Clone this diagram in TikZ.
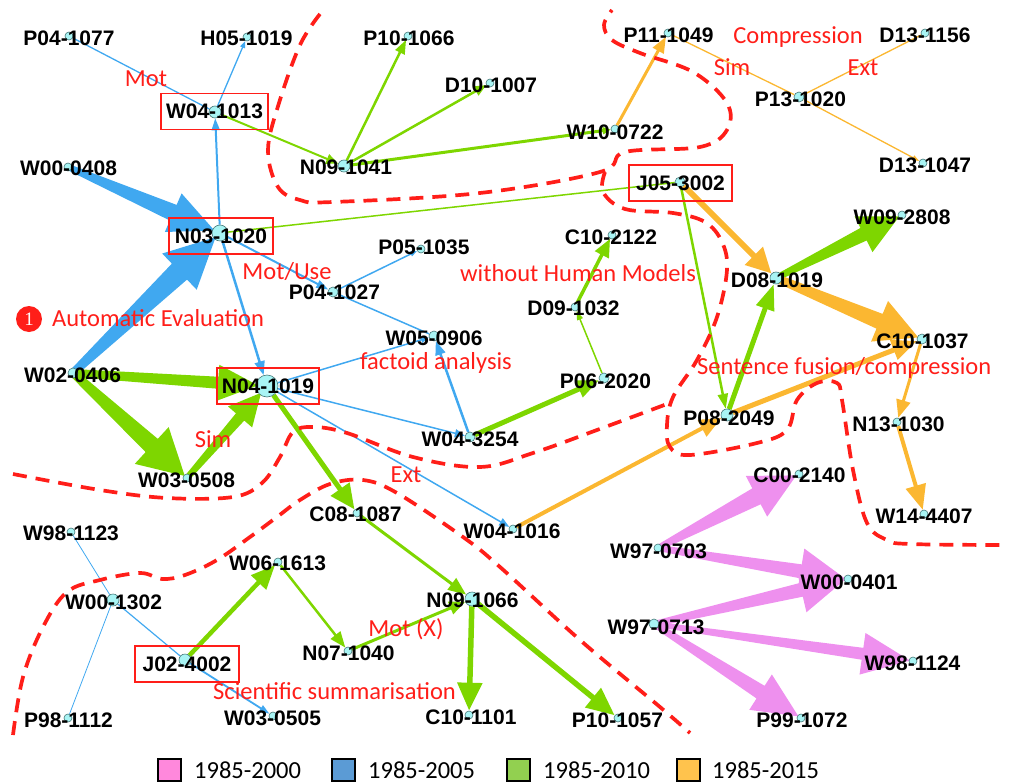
\documentclass[tikz,border=0pt]{standalone}
\usepackage{fontspec}
\newfontfamily\labfont{Liberation Sans}
\newfontfamily\redfont{Carlito}
\newfontfamily\numfont{Liberation Serif}
\usetikzlibrary{arrows.meta,calc}
\definecolor{eb}{RGB}{64,168,240}
\definecolor{eg}{RGB}{126,214,0}
\definecolor{eo}{RGB}{251,183,49}
\definecolor{ep}{RGB}{238,144,238}
\definecolor{lred}{RGB}{255,30,25}
\definecolor{dotfill}{RGB}{168,244,244}
\definecolor{dotline}{RGB}{70,120,120}
\definecolor{lgpink}{RGB}{255,136,220}
\definecolor{lgblue}{RGB}{91,155,213}
\definecolor{lggreen}{RGB}{146,208,80}
\definecolor{lgorange}{RGB}{255,195,77}
\pgfdeclarelayer{edges}
\pgfsetlayers{edges,main}
\tikzset{
  dot/.style={circle,draw=dotline,fill=dotfill,line width=0.6pt,inner sep=0pt,minimum size=#1},
  lab/.style={font=\labfont\bfseries\fontsize{21}{21}\selectfont,inner sep=0pt,text=black},
  boxed/.style={draw=lred,line width=1.5pt,minimum width=#1,minimum height=36pt},
  rlab/.style={font=\redfont\fontsize{24.5}{24.5}\selectfont,inner sep=0pt,text=lred},
  cut/.style={draw=lred,line width=3.7pt,dash pattern=on 14pt off 9pt},
  ed/.style n args={4}{draw=#1,line width=#2,-{Triangle[length=#3,width=#4]}},
  ln/.style n args={2}{draw=#1,line width=#2},
  lgbox/.style={draw=black,line width=1.5pt,minimum width=23pt,minimum height=22pt,inner sep=0pt},
  lgtext/.style={font=\redfont\fontsize{24.5}{24.5}\selectfont,inner sep=0pt,anchor=base west}
}
% tapered arrow: colour, source, target, half width at source, half width at head,
% head length, head half width, tip gap from target centre
\newcommand\taperedge[8]{%
  \coordinate (tpS) at (#2.center);
  \coordinate (tpT) at ($(#3.center)!#8!(#2.center)$);
  \coordinate (tpB) at ($(tpT)!#6!(#2.center)$);
  \fill[#1] ($(tpS)!#4!90:(tpT)$) -- ($(tpB)!#5!-90:(tpS)$) -- ($(tpB)!#7!-90:(tpS)$)
    -- (tpT) -- ($(tpB)!#7!90:(tpS)$) -- ($(tpB)!#5!90:(tpS)$) -- ($(tpS)!#4!-90:(tpT)$) -- cycle;
}
\begin{document}
\begin{tikzpicture}[x=1pt,y=-1pt]
\useasboundingbox (0,0) rectangle (1015,784);
% ---- dots ----
\node[dot=8pt] (P041077) at (69,36) {};
\node[dot=8pt] (H051019) at (247,37) {};
\node[dot=12pt] (W041013) at (215,112) {};
\node[dot=8pt] (W000408) at (68,167) {};
\node[dot=16pt] (N031020) at (220,233) {};
\node[dot=8pt] (P101066) at (408,36) {};
\node[dot=8pt] (D101007) at (490,83) {};
\node[dot=8pt] (W100722) at (615,129) {};
\node[dot=12pt] (N091041) at (344,166) {};
\node[dot=8pt] (P051035) at (421,249) {};
\node[dot=10pt] (P041027) at (333,292) {};
\node[dot=8pt] (P111049) at (668,33) {};
\node[dot=8pt] (D131156) at (925,33) {};
\node[dot=10pt] (P131020) at (799,97) {};
\node[dot=8pt] (D131047) at (923,163) {};
\node[dot=10pt] (J053002) at (680,182) {};
\node[dot=8pt] (W092808) at (902,215) {};
\node[dot=8pt] (C102122) at (612,235) {};
\node[dot=10pt] (W020406) at (73,373) {};
\node[dot=22pt] (N041019) at (267,386) {};
\node[dot=8pt] (W030508) at (187,478) {};
\node[dot=8pt] (D091032) at (575,307) {};
\node[dot=10pt] (W050906) at (434,336) {};
\node[dot=10pt] (P062020) at (604,378) {};
\node[dot=10pt] (W043254) at (470,437) {};
\node[dot=12pt] (D081019) at (776,278) {};
\node[dot=10pt] (C101037) at (922,339) {};
\node[dot=12pt] (P082049) at (727,415) {};
\node[dot=8pt] (N131030) at (897,422) {};
\node[dot=8pt] (C002140) at (799,474) {};
\node[dot=8pt] (W144407) at (924,514) {};
\node[dot=8pt] (W981123) at (71,532) {};
\node[dot=12pt] (W001302) at (113,600) {};
\node[dot=12pt] (J024002) at (185,660) {};
\node[dot=8pt] (P981112) at (68,718) {};
\node[dot=8pt] (W061613) at (278,562) {};
\node[dot=8pt] (N071040) at (348,651) {};
\node[dot=8pt] (W030505) at (273,716) {};
\node[dot=8pt] (C081087) at (357,513) {};
\node[dot=14pt] (N091066) at (472,599) {};
\node[dot=8pt] (C101101) at (469,715) {};
\node[dot=8pt] (P101057) at (618,718) {};
\node[dot=8pt] (W041016) at (513,529) {};
\node[dot=8pt] (W970703) at (658,548) {};
\node[dot=8pt] (W000401) at (848,579) {};
\node[dot=10pt] (W970713) at (654,624) {};
\node[dot=8pt] (W981124) at (913,661) {};
\node[dot=8pt] (P991072) at (801,718) {};
% ---- edges ----
\begin{pgfonlayer}{edges}
% blue
\draw[ln={eb}{1.3pt}] (P041077) -- (W041013);
\draw[ed={eb}{1.3pt}{7pt}{5pt}] (W041013) -- (H051019);
\taperedge{eb}{W000408}{N031020}{3pt}{8.5pt}{45pt}{21pt}{6pt}
\taperedge{eb}{W020406}{N031020}{4pt}{11pt}{50pt}{25pt}{6pt}
\draw[ed={eb}{2pt}{12pt}{8pt}] (N031020) -- (W041013);
\draw[ed={eb}{2.5pt}{14pt}{10pt}] (N031020) -- (N041019);
\draw[ed={eb}{2pt}{12pt}{8pt}] (N031020) -- (P041027);
\draw[ed={eb}{1.5pt}{7pt}{5pt}] (P041027) -- (P051035);
\draw[ln={eb}{1.5pt}] (P041027) -- (W050906);
\draw[ed={eb}{1.5pt}{8pt}{6pt}] (N041019) -- (W050906);
\draw[ed={eb}{2.5pt}{14pt}{10pt}] (W043254) -- (W050906);
\draw[ed={eb}{1.5pt}{10pt}{8pt}] (N041019) -- (W043254);
\draw[ed={eb}{1.5pt}{10pt}{8pt}] (N041019) -- (W041016);
\draw[ln={eb}{0.8pt}] (W981123) -- (W001302);
\draw[ln={eb}{0.8pt}] (W001302) -- (P981112);
\draw[ln={eb}{1.2pt}] (W001302) -- (J024002);
\draw[ed={eb}{1.8pt}{10pt}{7pt}] (J024002) -- (W030505);
% green
\draw[ed={eg}{2pt}{12pt}{10pt}] (W041013) -- (N091041);
\draw[ed={eg}{2.5pt}{14pt}{10pt}] (N091041) -- (P101066);
\draw[ed={eg}{2.5pt}{12pt}{10pt}] (N091041) -- (D101007);
\draw[ed={eg}{3pt}{8pt}{7pt}] (N091041) -- (W100722);
\draw[ln={eg}{1.5pt}] (N031020) -- (J053002);
\taperedge{eg}{W020406}{N041019}{4pt}{6pt}{40pt}{18pt}{9pt}
\taperedge{eg}{W020406}{W030508}{4pt}{9pt}{45pt}{25pt}{3pt}
\taperedge{eg}{W030508}{N041019}{3pt}{5.5pt}{32pt}{16pt}{9pt}
\draw[ed={eg}{5pt}{25pt}{22pt}] (N041019) -- (C081087);
\draw[ed={eg}{5pt}{22pt}{17pt}] (W043254) -- (P062020);
\draw[ed={eg}{1.5pt}{9pt}{6pt}] (P062020) -- (D091032);
\draw[ed={eg}{3.5pt}{18pt}{15pt}] (D091032) -- (C102122);
\draw[ed={eg}{2.5pt}{15pt}{10pt}] (J053002) -- (P082049);
\draw[ed={eg}{5pt}{26pt}{18pt}] (P082049) -- (D081019);
\taperedge{eg}{D081019}{W092808}{3pt}{7pt}{40pt}{20pt}{3pt}
\draw[ed={eg}{3pt}{18pt}{14pt}] (C081087) -- (N091066);
\draw[ed={eg}{3pt}{16pt}{13pt}] (N071040) -- (N091066);
\draw[ed={eg}{2.5pt}{16pt}{12pt}] (W061613) -- (N071040);
\draw[ed={eg}{4.5pt}{24pt}{20pt}] (J024002) -- (W061613);
\draw[ed={eg}{5.5pt}{28pt}{24pt}] (N091066) -- (C101101);
\draw[ed={eg}{5.5pt}{28pt}{24pt}] (N091066) -- (P101057);
% orange
\draw[ed={eo}{3pt}{16pt}{12pt}] (W100722) -- (P111049);
\draw[ln={eo}{1.3pt}] (P111049) -- (P131020);
\draw[ln={eo}{1.3pt}] (P131020) -- (D131156);
\draw[ed={eo}{1.3pt}{7pt}{5pt}] (P131020) -- (D131047);
\draw[ed={eo}{6pt}{25pt}{24pt}] (J053002) -- (D081019);
\taperedge{eo}{D081019}{C101037}{4pt}{8pt}{42pt}{22pt}{4pt}
\draw[ed={eo}{5pt}{25pt}{20pt}] (P082049) -- (C101037);
\draw[ed={eo}{4pt}{22pt}{18pt}] (W041016) -- (P082049);
\draw[ed={eo}{3pt}{18pt}{14pt}] (C101037) -- (N131030);
\draw[ed={eo}{4pt}{25pt}{20pt}] (N131030) -- (W144407);
% pink
\taperedge{ep}{W970703}{C002140}{3pt}{9pt}{45pt}{23pt}{3pt}
\taperedge{ep}{W970703}{W000401}{3pt}{7pt}{45pt}{23pt}{3pt}
\taperedge{ep}{W970713}{W000401}{3pt}{7pt}{45pt}{23pt}{3pt}
\taperedge{ep}{W970713}{W981124}{2.5pt}{6pt}{48pt}{21pt}{3pt}
\taperedge{ep}{W970713}{P991072}{3pt}{7.5pt}{45pt}{21pt}{3pt}
\end{pgfonlayer}
% ---- labels ----
\node[lab] (tP041077) at (69,38) {P04-1077};
\node[lab] (tH051019) at (246.5,38) {H05-1019};
\node[lab,boxed=107pt] (tW041013) at (214.5,111.5) {W04-1013};
\node[lab] (tW000408) at (68.5,168) {W00-0408};
\node[lab,boxed=104pt] (tN031020) at (221,236) {N03-1020};
\node[lab] (tP101066) at (409,38) {P10-1066};
\node[lab] (tD101007) at (491,85) {D10-1007};
\node[lab] (tW100722) at (615,132) {W10-0722};
\node[lab] (tN091041) at (346,167) {N09-1041};
\node[lab] (tP051035) at (424,247) {P05-1035};
\node[lab] (tP041027) at (334.5,292) {P04-1027};
\node[lab] (tP111049) at (668.5,35) {P11-1049};
\node[lab] (tD131156) at (925,35) {D13-1156};
\node[lab] (tP131020) at (800.5,99) {P13-1020};
\node[lab] (tD131047) at (925,165) {D13-1047};
\node[lab,boxed=103pt] (tJ053002) at (680.5,183) {J05-3002};
\node[lab] (tW092808) at (902,217) {W09-2808};
\node[lab] (tC102122) at (611,237) {C10-2122};
\node[lab] (tW020406) at (72.5,375) {W02-0406};
\node[lab,boxed=102pt] (tN041019) at (268,386) {N04-1019};
\node[lab] (tW030508) at (186.5,480) {W03-0508};
\node[lab] (tD091032) at (573.5,308) {D09-1032};
\node[lab] (tW050906) at (434,338) {W05-0906};
\node[lab] (tP062020) at (605.5,381) {P06-2020};
\node[lab] (tW043254) at (470,439) {W04-3254};
\node[lab] (tD081019) at (777,280) {D08-1019};
\node[lab] (tC101037) at (922.5,341) {C10-1037};
\node[lab] (tP082049) at (729,418) {P08-2049};
\node[lab] (tN131030) at (898.5,424) {N13-1030};
\node[lab] (tC002140) at (799.5,475) {C00-2140};
\node[lab] (tW144407) at (924,516) {W14-4407};
\node[lab] (tW981123) at (71,533) {W98-1123};
\node[lab] (tW001302) at (113.5,602) {W00-1302};
\node[lab,boxed=104pt] (tJ024002) at (187,664) {J02-4002};
\node[lab] (tP981112) at (68.5,720) {P98-1112};
\node[lab] (tW061613) at (277.5,563) {W06-1613};
\node[lab] (tN071040) at (348.5,653) {N07-1040};
\node[lab] (tW030505) at (272.5,718) {W03-0505};
\node[lab] (tC081087) at (355.5,514) {C08-1087};
\node[lab] (tN091066) at (472.5,600) {N09-1066};
\node[lab] (tC101101) at (471,717) {C10-1101};
\node[lab] (tP101057) at (617.5,720) {P10-1057};
\node[lab] (tW041016) at (512,531) {W04-1016};
\node[lab] (tW970703) at (658.5,551) {W97-0703};
\node[lab] (tW000401) at (849,582) {W00-0401};
\node[lab] (tW970713) at (656,627) {W97-0713};
\node[lab] (tW981124) at (912.5,663) {W98-1124};
\node[lab] (tP991072) at (802,720) {P99-1072};
% ---- red annotations ----
\node[rlab,anchor=base] (rMot) at (146,86) {Mot};
\node[rlab,anchor=base] (rMotUse) at (287,279) {Mot/Use};
\node[circle,fill=lred,minimum size=26pt,inner sep=0pt,text=white,font=\numfont\fontsize{19}{19}\selectfont] (rOne) at (29,319) {1};
\node[rlab,anchor=base west] (rAuto) at (52,326) {Automatic Evaluation};
\node[rlab,anchor=base] (rSim1) at (213,447) {Sim};
\node[rlab,anchor=base] (rFact) at (436,369) {factoid analysis};
\node[rlab,anchor=base west] (rHum) at (460,281) {without Human Models};
\node[rlab,anchor=base] (rExt1) at (406,482) {Ext};
\node[rlab,anchor=base] (rComp) at (798,44) {Compression};
\node[rlab,anchor=base] (rSim2) at (732,75) {Sim};
\node[rlab,anchor=base] (rExt2) at (863,75) {Ext};
\node[rlab,anchor=base west] (rSent) at (697,374) {Sentence fusion/compression};
\node[rlab,anchor=base] (rMotX) at (406,636) {Mot (X)};
\node[rlab,anchor=base west] (rSci) at (213,699) {Scientific summarisation};
% ---- dashed cuts ----
\draw[cut] plot[smooth,tension=0.6] coordinates {(320,14) (300,45) (279,103) (268,150) (278,187) (300,200) (333,202) (480,193) (600,172) (625,152) (700,147) (727,130) (727,103) (693,72) (640,53) (612,40) (604,25) (612,10)};
\draw[cut] plot[smooth,tension=0.6] coordinates {(605,172) (603,192) (625,209) (673,213) (705,222) (722,242) (727,270) (717,317) (697,360) (673,397) (667,425) (670,447) (690,455) (757,443) (787,430) (797,400) (817,383) (837,383) (842,400) (853,470) (867,523) (887,540) (910,544) (1000,545)};
\draw[cut] plot[smooth,tension=0.6] coordinates {(13,474) (100,490) (167,498) (233,497) (262,483) (280,457) (293,432) (313,427) (347,433) (413,457) (480,467) (533,453) (597,430) (667,404)};
\draw[cut] plot[smooth,tension=0.6] coordinates {(13,735) (23,677) (43,627) (67,592) (100,580) (140,573) (162,579) (185,575) (217,560) (250,537) (277,517) (300,500) (330,484) (363,480) (397,493) (463,537) (500,567) (580,640) (660,707) (690,733)};
% ---- legend ----
\node[lgbox,fill=lgpink] (lg1) at (169.5,770) {};
\node[lgtext] (lt1) at (194,778) {1985-2000};
\node[lgbox,fill=lgblue] (lg2) at (343.5,770) {};
\node[lgtext] (lt2) at (368,778) {1985-2005};
\node[lgbox,fill=lggreen] (lg3) at (518.5,770) {};
\node[lgtext] (lt3) at (543,778) {1985-2010};
\node[lgbox,fill=lgorange] (lg4) at (688.5,770) {};
\node[lgtext] (lt4) at (712,778) {1985-2015};
\end{tikzpicture}
\end{document}
